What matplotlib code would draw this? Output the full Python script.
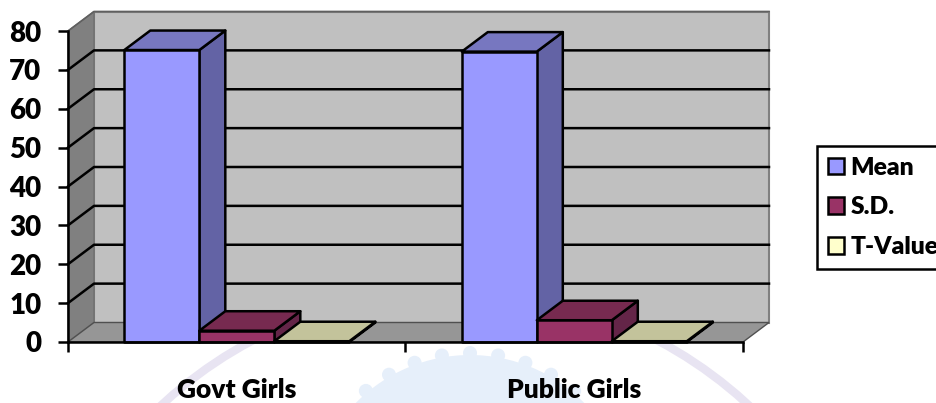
import numpy as np
import matplotlib.pyplot as plt
from matplotlib.patches import Polygon, Patch, Circle
from matplotlib.transforms import IdentityTransform

plt.rcParams['font.family'] = ['Lato', 'DejaVu Sans']

categories = ['Govt Girls', 'Public Girls']
series_names = ['Mean', 'S.D.', 'T-Value']
mean_values = [75.1, 74.7]
sd_values = [2.9, 5.6]
tvalue_values = [0.2, 0.2]
y_ticks = [0, 10, 20, 30, 40, 50, 60, 70, 80]

W, H = 937, 403
# one category is 337.5 px wide, one y unit 3.8875 px
DX = 26 / 337.5
DY = 19.5 / 3.8875
GAP = 56.3 / 337.5
BAR_W = 75 / 337.5
LW = 1.8
WEIGHT = 'heavy'

# front, top, side colours
colors = [('#9999ff', '#7777c0', '#6363a5'),
          ('#993366', '#772a50', '#642548'),
          ('#ffffcc', '#c3c39b', '#a5a585')]


def box(ax, x0, x1, val, cols, z):
    front = [(x0, 0), (x1, 0), (x1, val), (x0, val)]
    top = [(x0, val), (x1, val), (x1 + DX, val + DY), (x0 + DX, val + DY)]
    side = [(x1, 0), (x1 + DX, DY), (x1 + DX, val + DY), (x1, val)]
    for pts, c in ((side, cols[2]), (top, cols[1]), (front, cols[0])):
        ax.add_patch(Polygon(pts, closed=True, fc=c, ec='black', lw=LW,
                             joinstyle='round', clip_on=False, zorder=z))


fig = plt.figure(figsize=(W / 100, H / 100), dpi=100)

# faint watermark behind the chart, in pixels
px = IdentityTransform()
fig.add_artist(Circle((455, H - 722), 432, fc='none', ec='#e8e4f2', lw=6,
                      transform=px, zorder=-2))
fig.add_artist(Circle((470, H - 515), 160, fc='#e6effa', ec='none',
                      transform=px, zorder=-1))
for ang in np.arange(50, 131, 10):
    a = np.radians(ang)
    fig.add_artist(Circle((470 + 162 * np.cos(a), H - 515 + 162 * np.sin(a)), 7,
                          fc='#e6effa', ec='none', transform=px, zorder=-1))

ax = fig.add_axes([68 / W, (H - 342) / H, 675 / W, 311 / H])
ax.set_xlim(0, 2)
ax.set_ylim(0, 80)
ax.patch.set_visible(False)

# walls and floor
ax.add_patch(Polygon([(DX, DY), (2 + DX, DY), (2 + DX, 80 + DY), (DX, 80 + DY)],
                     fc='#c0c0c0', ec='#808080', lw=1.5, clip_on=False, zorder=1))
ax.add_patch(Polygon([(0, 0), (DX, DY), (DX, 80 + DY), (0, 80)],
                     fc='#808080', ec='#707070', lw=1, clip_on=False, zorder=1))
ax.add_patch(Polygon([(0, 0), (DX, DY), (2 + DX, DY), (2, 0)],
                     fc='#969696', ec='#505050', lw=1, clip_on=False, zorder=1))

# gridlines on both walls
for t in y_ticks[1:-1]:
    ax.plot([0, DX, 2 + DX], [t, t + DY, t + DY], color='black', lw=LW,
            clip_on=False, zorder=2)
ax.plot([0, DX, 2 + DX], [80, 80 + DY, 80 + DY], color='#606060', lw=1.2,
        clip_on=False, zorder=2)

# bars
all_values = [mean_values, sd_values, tvalue_values]
for c in range(len(categories)):
    for s, vals in enumerate(all_values):
        x0 = c + GAP + s * BAR_W
        box(ax, x0, x0 + BAR_W, vals[c], colors[s], 3 + s)

for name in ('top', 'right'):
    ax.spines[name].set_visible(False)
for name in ('left', 'bottom'):
    ax.spines[name].set_linewidth(LW)
    ax.spines[name].set_zorder(10)

ax.set_yticks(y_ticks)
ax.set_xticks([0, 1, 2])
ax.set_xticklabels([])
ax.set_xticks([0.5, 1.5], minor=True)
ax.set_xticklabels(categories, minor=True, fontsize=19, fontweight=WEIGHT)
ax.tick_params(axis='x', which='minor', length=0, pad=26)
ax.tick_params(axis='both', which='major', length=7.2, width=LW)
ax.tick_params(axis='y', labelsize=20, pad=12)
for lab in ax.get_yticklabels():
    lab.set_fontweight(WEIGHT)

handles = [Patch(fc=colors[i][0], ec='black', lw=LW) for i in range(3)]
leg = fig.legend(handles, series_names, loc='upper left',
                 bbox_to_anchor=(817 / W, (H - 146) / H), borderaxespad=0,
                 prop={'size': 17.7, 'weight': WEIGHT},
                 fancybox=False, framealpha=1, edgecolor='black',
                 handlelength=0.65, handleheight=0.65, handletextpad=0.29,
                 labelspacing=0.72, borderpad=0.43)
leg.get_frame().set_linewidth(LW)

fig.savefig('out.png', dpi=100)
